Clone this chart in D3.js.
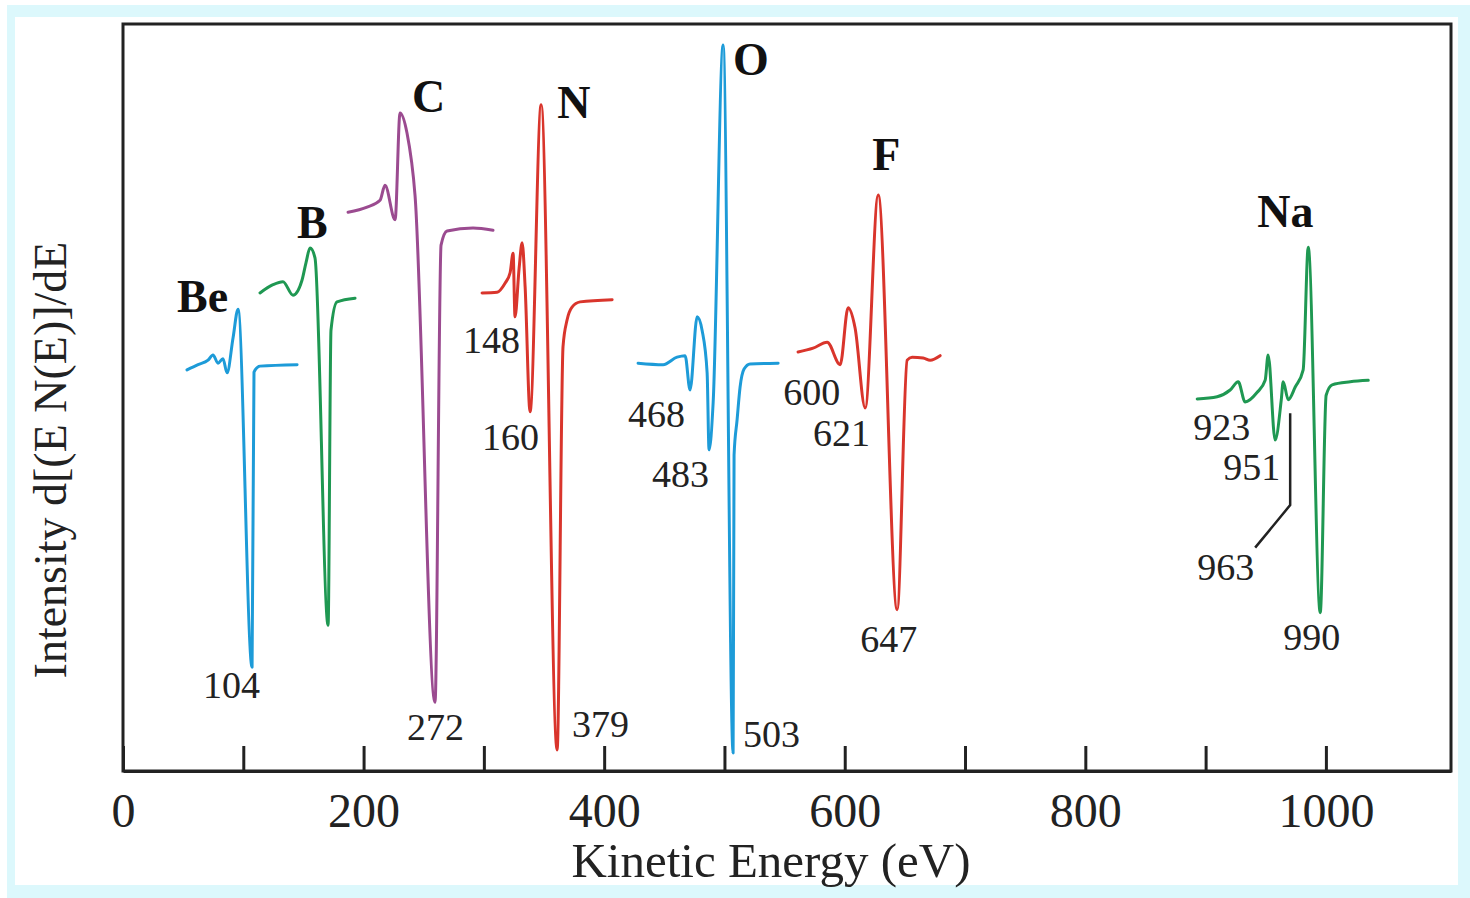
<!DOCTYPE html>
<html>
<head>
<meta charset="utf-8">
<script src="https://cdn.jsdelivr.net/npm/d3@7"></script>
<style>
  html, body { margin: 0; padding: 0; background: #fff; }
  svg { display: block; }
</style>
</head>
<body>
<svg id="chart" width="1470" height="898"></svg>
<script>
const width = 1470;
const height = 898;

// axis ticks (eV)
const tickValues = [0, 100, 200, 300, 400, 500, 600, 700, 800, 900, 1000];
const tickLabels = [0, 200, 400, 600, 800, 1000];

// spectra: [energy eV, intensity a.u.]
const beData = [[53.2, 53.7], [62.4, 54.4], [70.7, 55.0], [74.8, 55.7], [79.0, 54.6], [83.1, 55.2], [86.5, 53.3],
    [91.5, 58.0], [95.6, 61.8], [107.3, 13.9], [108.9, 53.4], [113.9, 54.2], [144.7, 54.4]];
const bData = [[113.9, 64.0], [124.7, 65.1], [133.0, 65.5], [141.3, 63.7], [148.8, 65.7], [152.2, 68.1], [155.5, 70.0],
    [159.6, 68.7], [170.5, 19.5], [172.9, 59.0], [177.9, 62.8], [192.9, 63.3]];
const cData = [[187.1, 74.8], [202.9, 75.5], [213.7, 76.4], [217.8, 78.4], [226.2, 73.8], [230.3, 88.1], [236.1, 85.4],
    [242.8, 77.0], [259.4, 9.2], [264.4, 70.4], [269.4, 72.3], [291.0, 72.7], [307.6, 72.4]];
const nData = [[298.5, 64.0], [311.0, 64.1], [317.6, 65.3], [321.8, 66.7], [324.3, 69.3], [325.9, 60.8], [329.3, 67.3],
    [331.8, 70.7], [334.3, 64.8], [338.4, 48.1], [347.6, 89.2], [360.9, 2.8], [365.8, 56.8], [369.2, 60.4],
    [373.3, 62.1], [380.0, 62.8], [406.6, 63.1]];
const oData = [[428.2, 54.6], [449.0, 54.4], [460.6, 55.4], [467.3, 55.6], [471.4, 51.0], [477.3, 60.8], [481.4, 59.0],
    [485.6, 53.3], [487.2, 43.0], [490.6, 49.3], [498.9, 97.2], [507.2, 2.4], [508.0, 42.3], [510.5, 47.0],
    [513.0, 51.4], [516.3, 53.8], [521.3, 54.5], [544.6, 54.6]];
const fData = [[561.2, 56.1], [573.7, 56.6], [585.4, 57.4], [596.2, 54.4], [602.8, 62.0], [608.6, 59.3], [617.0, 48.6],
    [627.8, 77.1], [643.6, 21.6], [651.9, 55.0], [656.0, 55.4], [665.2, 55.3], [671.0, 55.0], [679.3, 55.6]];
const naData = [[893.0, 49.8], [909.6, 50.1], [920.4, 51.0], [927.1, 52.1], [932.9, 49.4], [942.9, 50.7], [949.5, 52.3],
    [952.0, 55.7], [957.8, 44.3], [962.9, 49.7], [964.5, 52.1], [968.7, 49.7], [974.5, 51.4], [981.1, 53.7],
    [985.3, 70.1], [995.3, 21.2], [1000.2, 50.3], [1005.2, 51.7], [1020.2, 52.1], [1035.2, 52.3]];

const spectra = [
    {name: "Be", color: "#1d9bd8", values: beData},
    {name: "B", color: "#1f9852", values: bData},
    {name: "C", color: "#9b4b90", values: cData},
    {name: "N", color: "#d9352c", values: nData},
    {name: "O", color: "#1d9bd8", values: oData},
    {name: "F", color: "#d9352c", values: fData},
    {name: "Na", color: "#1f9852", values: naData}
];

// element names: [text, left eV, baseline intensity]
const elementLabels = [["Be", 44.9, 61.4], ["B", 144.7, 71.4], ["C", 240.3, 88.2], ["N", 360.9, 87.4],
    ["O", 507.2, 93.2], ["F", 622.8, 80.4], ["Na", 942.9, 72.8]];

// peak energies: [text, left eV, baseline intensity]
const peakLabels = [["104", 66.5, 9.8], ["272", 236.1, 4.1], ["148", 282.7, 56.0], ["160", 298.5, 43.0],
    ["379", 373.3, 4.6], ["468", 419.9, 46.1], ["483", 439.8, 38.0], ["503", 515.5, 3.2],
    ["600", 548.8, 49.0], ["621", 573.7, 43.5], ["647", 612.8, 15.9], ["923", 889.7, 44.3],
    ["951", 914.6, 39.0], ["963", 893.0, 25.6], ["990", 964.5, 16.2]];

// leader for the 963 peak
const leader963 = [[970.3, 47.9], [970.3, 35.6], [941.2, 29.9]];

const margin = {top: 24, right: 19, bottom: 127, left: 123};
const plotW = width - margin.left - margin.right;
const plotH = height - margin.top - margin.bottom;

const svg = d3.select("#chart");

// light cyan frame round the picture
svg.append("rect")
    .attr("x", 7).attr("y", 5)
    .attr("width", width - 7).attr("height", height - 5)
    .attr("fill", "#dcf8fc");
svg.append("rect")
    .attr("x", 15).attr("y", 17)
    .attr("width", 1443).attr("height", 868)
    .attr("fill", "#fff");

const g = svg.append("g")
    .attr("transform", `translate(${margin.left},${margin.top})`);

const x = d3.scaleLinear().domain([0, 1104]).range([0, plotW]);
const y = d3.scaleLinear().domain([0, 100]).range([plotH, 0]);

const line = d3.line()
    .x(d => x(d[0]))
    .y(d => y(d[1]))
    .curve(d3.curveMonotoneX);

g.selectAll("path.spectrum")
    .data(spectra)
    .join("path")
    .attr("class", "spectrum")
    .attr("d", d => line(d.values))
    .attr("fill", "none")
    .attr("stroke", d => d.color)
    .attr("stroke-width", 3)
    .attr("stroke-linejoin", "round")
    .attr("stroke-linecap", "round");

g.append("path")
    .attr("d", d3.line().x(d => x(d[0])).y(d => y(d[1]))(leader963))
    .attr("fill", "none")
    .attr("stroke", "#222")
    .attr("stroke-width", 2.5);

// frame
g.append("rect")
    .attr("width", plotW)
    .attr("height", plotH)
    .attr("fill", "none")
    .attr("stroke", "#222")
    .attr("stroke-width", 3);

const xAxis = g.append("g")
    .attr("transform", `translate(0,${plotH})`)
    .call(d3.axisBottom(x)
        .tickValues(tickValues)
        .tickSizeInner(-25)
        .tickSizeOuter(0)
        .tickPadding(22)
        .tickFormat(d => tickLabels.includes(d) ? d : ""));
xAxis.select(".domain").attr("stroke", "#222").attr("stroke-width", 3);
xAxis.selectAll(".tick line").attr("stroke", "#222").attr("stroke-width", 3);
xAxis.selectAll(".tick text")
    .attr("fill", "#222")
    .style("font-family", "'Liberation Serif', 'Times New Roman', serif")
    .style("font-size", "48px");

svg.append("text")
    .attr("x", 771)
    .attr("y", 877)
    .attr("text-anchor", "middle")
    .attr("fill", "#222")
    .style("font-family", "'Liberation Serif', 'Times New Roman', serif")
    .style("font-size", "49px")
    .text("Kinetic Energy (eV)");

svg.append("text")
    .attr("transform", "translate(66,460) rotate(-90)")
    .attr("text-anchor", "middle")
    .attr("fill", "#222")
    .style("font-family", "'Liberation Serif', 'Times New Roman', serif")
    .style("font-size", "46px")
    .text("Intensity d[(E N(E)]/dE");

g.selectAll("text.element")
    .data(elementLabels)
    .join("text")
    .attr("class", "element")
    .attr("x", d => x(d[1]))
    .attr("y", d => y(d[2]))
    .attr("fill", "#111")
    .style("font-family", "'Liberation Serif', 'Times New Roman', serif")
    .style("font-weight", "bold")
    .style("font-size", "46px")
    .text(d => d[0]);

g.selectAll("text.peak")
    .data(peakLabels)
    .join("text")
    .attr("class", "peak")
    .attr("x", d => x(d[1]))
    .attr("y", d => y(d[2]))
    .attr("fill", "#222")
    .style("font-family", "'Liberation Serif', 'Times New Roman', serif")
    .style("font-size", "38px")
    .text(d => d[0]);
</script>
</body>
</html>
